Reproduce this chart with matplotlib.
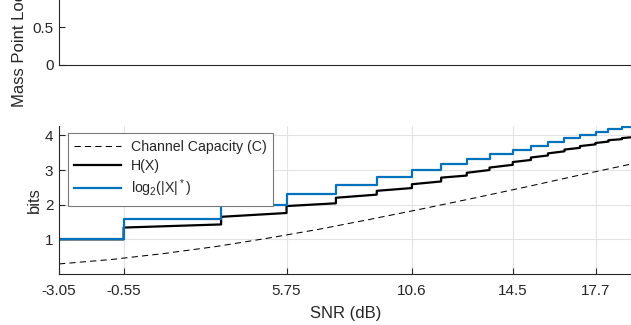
import matplotlib
matplotlib.use("Agg")
import matplotlib.pyplot as plt

plt.rcParams['font.family'] = ['Liberation Sans', 'DejaVu Sans']
plt.rcParams['mathtext.default'] = 'regular'
plt.rcParams['lines.scale_dashes'] = False

# SNR (dB) where the number of mass points changes
snr_edges = [-3.05, -0.55, 3.22, 5.75, 7.66, 9.24, 10.6, 11.73, 12.72, 13.60,
             14.5, 15.2, 15.86, 16.5, 17.1, 17.7, 18.2, 18.72, 19.15]
# log2(|X|*) on each interval
log_card = [1.0, 1.58, 2.0, 2.32, 2.58, 2.81, 3.0, 3.17, 3.32, 3.46,
            3.58, 3.70, 3.81, 3.91, 4.0, 4.09, 4.17, 4.25]
# H(X) at the start and end of each interval
h_start = [1.0, 1.34, 1.65, 1.96, 2.20, 2.40, 2.59, 2.78, 2.92, 3.07,
           3.23, 3.36, 3.48, 3.59, 3.69, 3.78, 3.86, 3.92]
h_end = [1.0, 1.43, 1.76, 2.04, 2.29, 2.48, 2.67, 2.84, 3.00, 3.15,
         3.29, 3.42, 3.54, 3.64, 3.74, 3.82, 3.89, 3.95]
# channel capacity
cap_snr = [-3.05, -1, 1, 3, 5, 7, 9, 11, 13, 15, 17, 19, 19.15]
cap_bits = [0.29, 0.42, 0.59, 0.79, 1.03, 1.29, 1.58, 1.88, 2.19, 2.51, 2.84, 3.16, 3.19]

xticks = [-3.05, -0.55, 5.75, 10.6, 14.5, 17.7]
xticklabels = ['-3.05', '-0.55', '5.75', '10.6', '14.5', '17.7']

dark = '#262626'
blue = '#0072BD'

fig = plt.figure(figsize=(6.31, 3.25), dpi=100)
W, H = 631, 325

ax_top = fig.add_axes([59 / W, 260 / H, 574 / W, 75.4 / H])
ax = fig.add_axes([59 / W, 51 / H, 574 / W, 148 / H])

# top panel (cut off)
ax_top.set_xlim(-3.05, 19.15)
ax_top.set_ylim(0, 1)
ax_top.set_xticks([])
ax_top.set_yticks([0, 0.5])
ax_top.set_yticklabels(['0', '0.5'])
ax_top.set_ylabel('Mass Point Locations', fontsize=12, color=dark, labelpad=3.5)

# bottom panel
hx, hy = [], []
for i in range(len(h_start)):
    hx += [snr_edges[i], snr_edges[i + 1]]
    hy += [h_start[i], h_end[i]]

ax.plot(cap_snr, cap_bits, color='k', lw=0.75, dashes=(4.5, 3), label='Channel Capacity (C)')
ax.plot(hx, hy, color='k', lw=1.6, label='H(X)')
ax.step(snr_edges, log_card + [log_card[-1]], where='post', color=blue, lw=1.6,
        label='log$_2$(|X|$^*$)')

ax.set_xlim(-3.05, 19.15)
ax.set_ylim(0, 4.27)
ax.set_xticks(xticks)
ax.set_xticklabels(xticklabels)
ax.set_yticks([1, 2, 3, 4])
ax.grid(True, color='#e3e3e3', lw=0.8)
ax.set_axisbelow(True)
ax.set_xlabel('SNR (dB)', fontsize=12, color=dark, labelpad=6)
ax.set_ylabel('bits', fontsize=12, color=dark, labelpad=2)

for a in (ax, ax_top):
    for s in ('top', 'right'):
        a.spines[s].set_visible(False)
    for s in ('left', 'bottom'):
        a.spines[s].set_color(dark)
        a.spines[s].set_linewidth(0.8)
    a.tick_params(direction='in', length=4.5, width=0.8, colors=dark, labelsize=11)
    a.tick_params(axis='x', pad=7)
    a.tick_params(axis='y', pad=4)

leg = ax.legend(loc='upper left', bbox_to_anchor=(68 / W, 1 - 133.3 / H),
                bbox_transform=fig.transFigure, borderaxespad=0, fontsize=10.2,
                fancybox=False, framealpha=1, edgecolor='#7a7a7a',
                handlelength=3.3, handletextpad=0.7, labelspacing=0.35,
                borderpad=0.45)
leg.get_frame().set_linewidth(0.8)
for t in leg.get_texts():
    t.set_color(dark)

fig.savefig('out.png', dpi=100)
